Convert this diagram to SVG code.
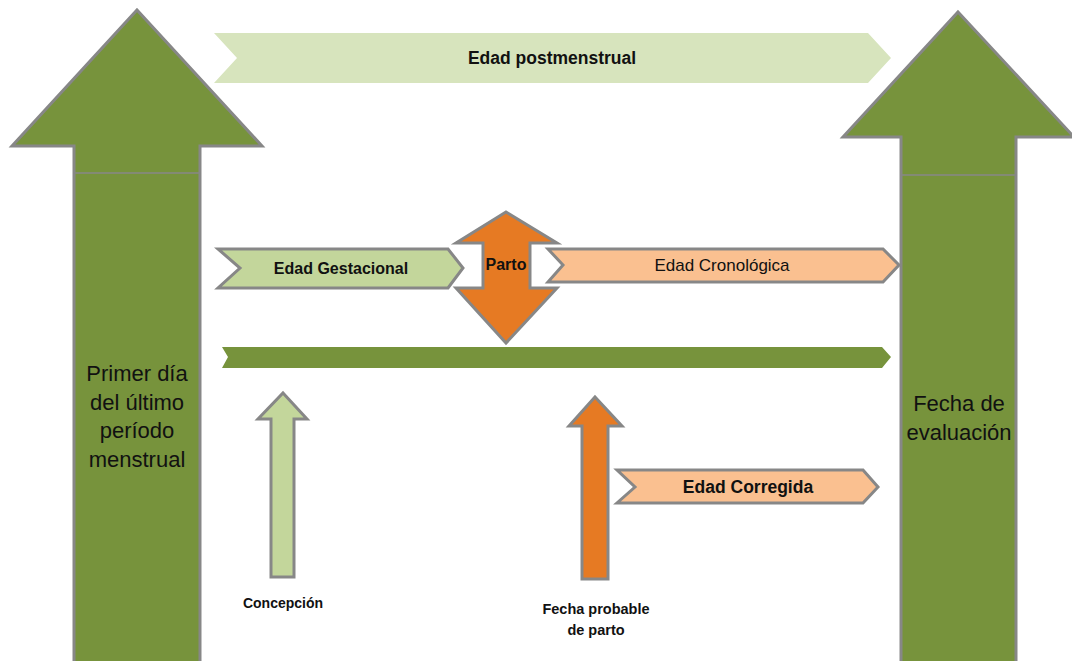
<svg xmlns="http://www.w3.org/2000/svg" width="1072" height="661" viewBox="0 0 1072 661">
<style>
.big{fill:#77933C;stroke:#878787;stroke-width:3;stroke-linejoin:miter}
.lg{fill:#C3D69B;stroke:#878787;stroke-width:3}
.or{fill:#E67A23;stroke:#878787;stroke-width:3}
.pe{fill:#FAC090;stroke:#878787;stroke-width:3}
text{font-family:"Liberation Sans",Arial,sans-serif;fill:#111;text-anchor:middle;dominant-baseline:central}
.b{font-weight:bold}
.lab{font-size:22px}
</style>
<rect width="1072" height="661" fill="#fff"/>
<g id="primer-dia">
<polygon class="big" points="137,10 262,146 200,146 200,672 74,672 74,146 12,146"/>
<line x1="75" y1="173" x2="199" y2="173" stroke="#878787" stroke-width="1.5"/>
<text class="lab" x="137" y="373">Primer día</text>
<text class="lab" x="137" y="402">del último</text>
<text class="lab" x="137" y="430">período</text>
<text class="lab" x="137" y="459">menstrual</text>
</g>
<g id="fecha-evaluacion">
<polygon class="big" points="958,12 1074,137 1016,137 1016,672 901,672 901,137 843,137"/>
<line x1="902" y1="175" x2="1015" y2="175" stroke="#878787" stroke-width="1.5"/>
<text class="lab" x="959" y="403">Fecha de</text>
<text class="lab" x="959" y="432">evaluación</text>
</g>
<g id="edad-postmenstrual">
<polygon fill="#D7E4BD" points="214,33 868,33 891,58 868,83 214,83 237,58"/>
<text class="b" x="552" y="58" font-size="17.5">Edad postmenstrual</text>
</g>
<g id="edad-gestacional">
<polygon class="lg" points="218,249 448,249 463,268 448,288 218,288 240,268"/>
<text class="b" x="341" y="268" font-size="16">Edad Gestacional</text>
</g>
<g id="parto">
<polygon class="or" points="506,212 557,243 530,243 530,288 557,288 506,343 456,288 483,288 483,243 456,243"/>
<text class="b" x="506" y="264" font-size="16">Parto</text>
</g>
<g id="edad-cronologica">
<polygon class="pe" points="548,249 883,249 899,265 883,282 548,282 563,265"/>
<text x="722" y="265" font-size="17">Edad Cronológica</text>
</g>
<g id="linea-tiempo">
<polygon fill="#77933C" points="222,347 882,347 891,357 882,368 222,368 228,357"/>
</g>
<g id="concepcion">
<polygon class="lg" points="283,393 307,419 294,419 294,577 271,577 271,419 258,419"/>
<text class="b" x="283" y="603" font-size="14">Concepción</text>
</g>
<g id="fecha-probable">
<polygon class="or" points="595,397 622,426 608,426 608,579 582,579 582,426 569,426"/>
<text class="b" x="596" y="609" font-size="14.5">Fecha probable</text>
<text class="b" x="596" y="630" font-size="14.5">de parto</text>
</g>
<g id="edad-corregida">
<polygon class="pe" points="617,470 863,470 878,487 863,503 617,503 635,487"/>
<text class="b" x="748" y="487" font-size="17.5">Edad Corregida</text>
</g>
<g id="connectors"></g>
</svg>
